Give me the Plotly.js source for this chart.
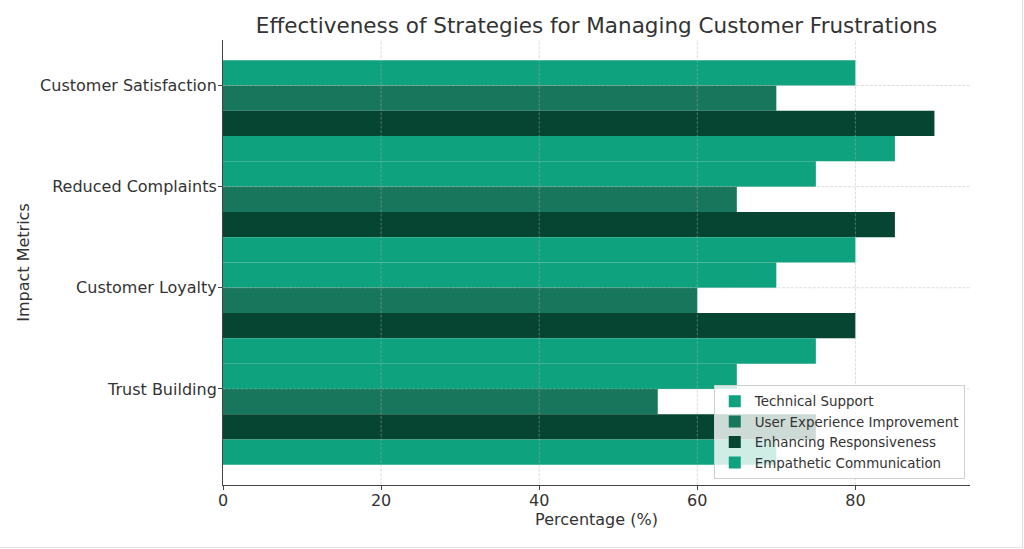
<!DOCTYPE html>
<html>
<head>
<meta charset="utf-8">
<script src="https://cdn.plot.ly/plotly-3.0.1.min.js"></script>
<style>
  html, body { margin: 0; padding: 0; background: #ffffff; }
  #wrap { width: 1022px; height: 547px; border-right: 1px solid #e2e2e2; border-bottom: 1px solid #e2e2e2; overflow: hidden; }
  #chart { width: 1024px; height: 549px; }
</style>
</head>
<body>
<div id="wrap"><div id="chart"></div></div>
<script>
// ---- data ----
const categories = ["Customer Satisfaction", "Reduced Complaints", "Customer Loyalty", "Trust Building"];
const seriesNames = ["Technical Support", "User Experience Improvement", "Enhancing Responsiveness", "Empathetic Communication"];
const technicalSupport = [80, 75, 70, 65];
const userExperience = [70, 65, 60, 55];
const enhancingResponsiveness = [90, 85, 80, 75];
const empatheticCommunication = [85, 80, 75, 70];
const xTickVals = [0, 20, 40, 60, 80];
const xTickText = ["0", "20", "40", "60", "80"];

// ---- styles ----
const colors = ["#0fa27e", "#18765c", "#054531", "#0fa27e"];
const seriesValues = [technicalSupport, userExperience, enhancingResponsiveness, empatheticCommunication];
const barWidth = 0.25;
const textColor = "#333333";
const font = "DejaVu Sans, Verdana, sans-serif";

const traces = seriesValues.map((vals, i) => ({
  type: "bar",
  orientation: "h",
  name: seriesNames[i],
  x: vals,
  y: categories,
  width: barWidth,
  offset: (i - 1) * barWidth,
  marker: { color: colors[i], line: { width: 0 } },
  hoverinfo: "x+y+name"
}));

const gridStyle = { color: "rgba(176,176,176,0.55)", width: 0.8, dash: "3px,1.4px" };
const shapes = [];
xTickVals.slice(1).forEach(v => shapes.push({
  type: "line", layer: "above", xref: "x", yref: "paper",
  x0: v, x1: v, y0: 0, y1: 1, line: gridStyle
}));
categories.forEach(c => shapes.push({
  type: "line", layer: "above", xref: "paper", yref: "y",
  x0: 0, x1: 1, y0: c, y1: c, line: gridStyle
}));

const layout = {
  width: 1024,
  height: 549,
  margin: { l: 223, r: 54, t: 40, b: 64, pad: 0 },
  paper_bgcolor: "rgba(0,0,0,0)",
  plot_bgcolor: "#ffffff",
  font: { family: font, color: textColor, size: 16 },
  barmode: "overlay",
  title: {
    text: "Effectiveness of Strategies for Managing Customer Frustrations",
    font: { family: font, size: 21.5, color: textColor },
    x: (223 + 970) / 2 / 1024, xanchor: "center",
    y: 1 - 25 / 549, yanchor: "middle"
  },
  xaxis: {
    range: [0, 94.5],
    tickvals: xTickVals,
    ticktext: xTickText,
    showgrid: false,
    zeroline: false,
    showline: true,
    linecolor: "#444444",
    linewidth: 1,
    ticks: "outside",
    ticklen: 4,
    tickwidth: 1,
    tickcolor: "#444444",
    tickfont: { size: 16, color: textColor },
    ticklabelstandoff: -3,
    title: { text: "Percentage (%)", font: { size: 16, color: textColor }, standoff: 4 },
    automargin: false
  },
  yaxis: {
    type: "category",
    categoryorder: "array",
    categoryarray: categories,
    range: [3.95, -0.45],
    showgrid: false,
    zeroline: false,
    showline: true,
    linecolor: "#444444",
    linewidth: 1,
    ticks: "outside",
    ticklen: 4,
    tickwidth: 1,
    tickcolor: "#444444",
    tickfont: { size: 16, color: textColor },
    ticklabelstandoff: -2,
    title: { text: "Impact Metrics", font: { size: 16, color: textColor }, standoff: 6 },
    automargin: false
  },
  shapes: shapes,
  legend: {
    x: 0.993, xanchor: "right",
    y: 0.0135, yanchor: "bottom",
    bgcolor: "rgba(255,255,255,0.8)",
    bordercolor: "#d0d0d0",
    borderwidth: 1,
    font: { size: 13.4, color: textColor },
    traceorder: "normal",
    tracegroupgap: 0
  },
  showlegend: true
};

Plotly.newPlot("chart", traces, layout, { displayModeBar: false, staticPlot: true });
</script>
</body>
</html>
